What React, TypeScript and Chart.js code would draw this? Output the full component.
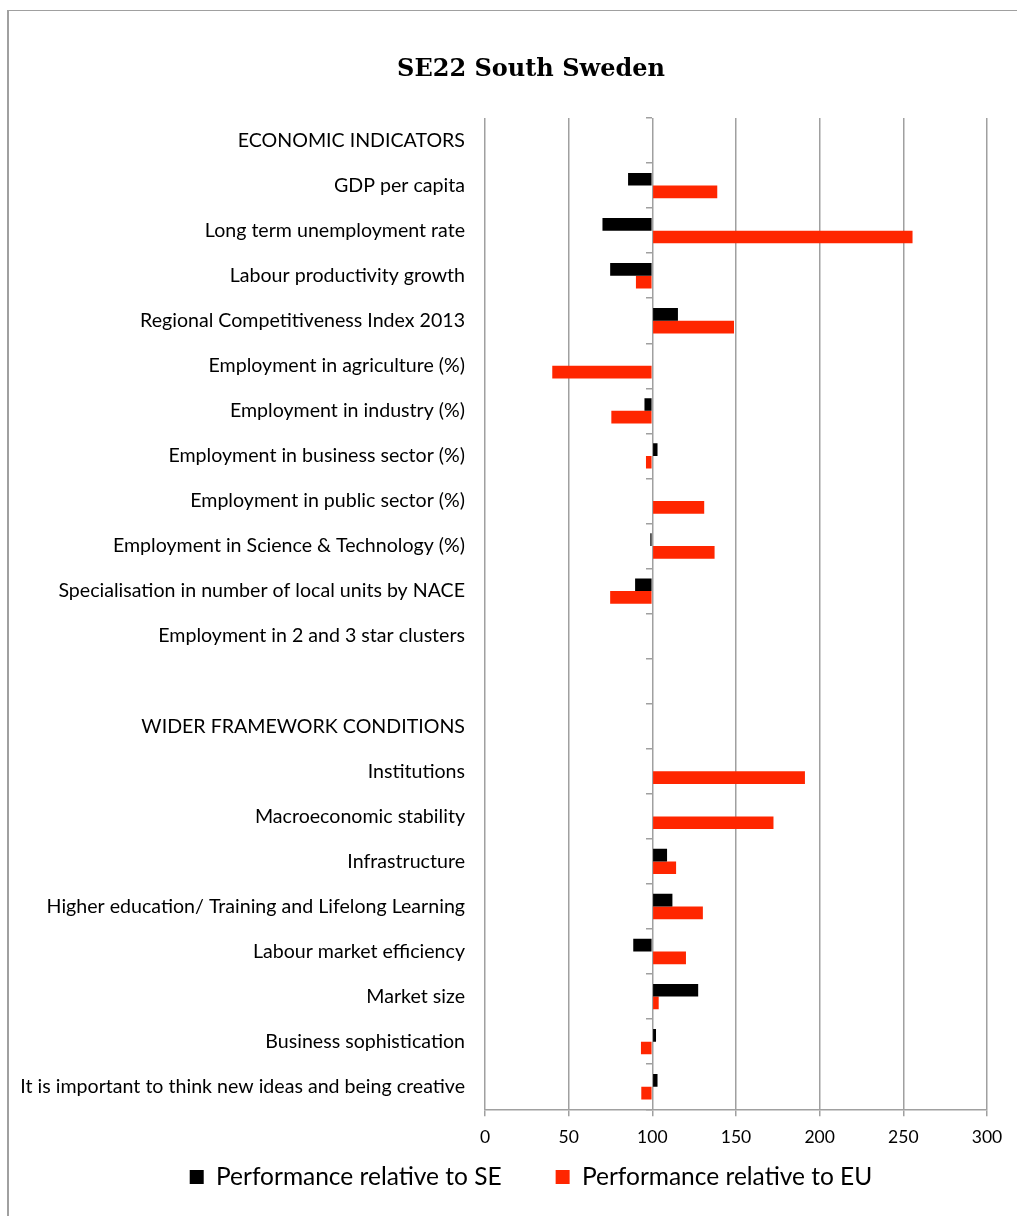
import React, { useEffect, useRef } from 'react';
import { Chart, registerables } from 'chart.js';

Chart.register(...registerables);

const chartTitle = 'SE22 South Sweden';

const categories = [
  'ECONOMIC INDICATORS',
  'GDP per capita',
  'Long term unemployment rate',
  'Labour productivity growth',
  'Regional Competitiveness Index 2013',
  'Employment in agriculture (%)',
  'Employment in industry (%)',
  'Employment in business sector (%)',
  'Employment in public sector (%)',
  'Employment in Science & Technology (%)',
  'Specialisation in number of local units by NACE',
  'Employment in 2 and 3 star clusters',
  '',
  'WIDER FRAMEWORK CONDITIONS',
  'Institutions',
  'Macroeconomic stability',
  'Infrastructure',
  'Higher education/ Training and Lifelong Learning',
  'Labour market efficiency',
  'Market size',
  'Business sophistication',
  'It is important to think new ideas and being creative',
];

const seValues: (number | null)[] = [
  null, 85.5, 70.2, 74.8, 115.3, null, 95.3, 103.1, null, 98.8, 89.7, null,
  null, null, null, null, 108.8, 112.0, 88.6, 127.4, 102.2, 103.1,
];

const euValues: (number | null)[] = [
  null, 138.8, 255.5, 90.2, 148.8, 40.2, 75.5, 96.2, 131.0, 137.2, 74.8, null,
  null, null, 191.2, 172.4, 114.2, 130.2, 120.1, 103.8, 93.2, 93.4,
];

const seriesNames = ['Performance relative to SE', 'Performance relative to EU'];
const seriesColors = ['#000000', '#FF2600'];
const baseline = 100;
const xMin = 0;
const xMax = 300;
const xStep = 50;

const GRID = '#a0a0a0';

export default function App() {
  const canvasRef = useRef<HTMLCanvasElement | null>(null);

  useEffect(() => {
    const canvas = canvasRef.current;
    if (!canvas) return;
    const chart = new Chart(canvas, {
      type: 'bar',
      data: {
        labels: categories,
        datasets: [
          {
            label: seriesNames[0],
            data: seValues,
            backgroundColor: seriesColors[0],
            borderWidth: 0,
            base: baseline,
            xAxisID: 'x',
            yAxisID: 'y',
          } as any,
          {
            label: seriesNames[1],
            data: euValues,
            backgroundColor: seriesColors[1],
            borderWidth: 0,
            base: baseline,
            xAxisID: 'x',
            yAxisID: 'y',
          } as any,
        ],
      },
      options: {
        animation: false,
        responsive: false,
        indexAxis: 'y',
        layout: { padding: { left: 0, right: 0, top: 0, bottom: 16.75 } },
        datasets: { bar: { categoryPercentage: 0.563, barPercentage: 1 } },
        plugins: {
          title: {
            display: true,
            text: chartTitle,
            color: '#000',
            font: { family: 'DejaVu Serif', weight: 'bold', size: 24 },
            padding: { top: 55.6, bottom: 33.6 },
          },
          legend: {
            position: 'bottom',
            labels: {
              color: '#000',
              font: { family: 'Lato', size: 24.5 },
              boxWidth: 14,
              boxHeight: 14,
              padding: 54,
            },
          },
          tooltip: { enabled: false },
        },
        scales: {
          x: {
            type: 'linear',
            min: xMin,
            max: xMax,
            ticks: {
              stepSize: xStep,
              color: '#000',
              font: { family: 'Lato', size: 17.5 },
              padding: -38.5,
              mirror: true,
            },
            grid: { color: GRID, lineWidth: 1.5, drawTicks: true, tickLength: 7 },
            border: { display: true, color: GRID, width: 1.5 },
            afterFit: (s: any) => {
              s.height = 1.5;
            },
          },
          y: {
            type: 'category',
            position: 'left',
            offset: true,
            grid: { display: false, drawTicks: false },
            border: { display: false },
            ticks: {
              color: '#000',
              font: { family: 'Lato', size: 19.6 },
              padding: 20,
              autoSkip: false,
            },
            afterFit: (s: any) => {
              s.width = 485;
            },
          },
          yMid: {
            type: 'category',
            axis: 'y',
            position: { x: baseline },
            offset: true,
            ticks: { display: false },
            grid: {
              display: true,
              drawOnChartArea: false,
              drawTicks: true,
              tickLength: 6,
              color: GRID,
              lineWidth: 1.5,
              offset: true,
            },
            border: { display: false },
          },
          yRight: {
            type: 'category',
            axis: 'y',
            position: 'right',
            ticks: { display: false },
            grid: { display: false, drawTicks: false },
            border: { display: false },
            afterFit: (s: any) => {
              s.width = 75;
            },
          },
        } as any,
      },
    });
    return () => chart.destroy();
  }, []);

  return (
    <div
      style={{
        position: 'absolute',
        left: 0,
        top: 0,
        width: 1017,
        height: 1216,
        overflow: 'hidden',
        background: '#fff',
      }}
    >
      <div
        style={{
          position: 'absolute',
          left: 7,
          top: 10,
          width: 1100,
          height: 1300,
          borderLeft: '2px solid #a0a0a0',
          borderTop: '1.5px solid #a0a0a0',
        }}
      />
      <canvas
        ref={canvasRef}
        width={1062}
        height={1216}
        style={{ position: 'absolute', left: 0, top: 0, width: 1062, height: 1216 }}
      />
    </div>
  );
}
